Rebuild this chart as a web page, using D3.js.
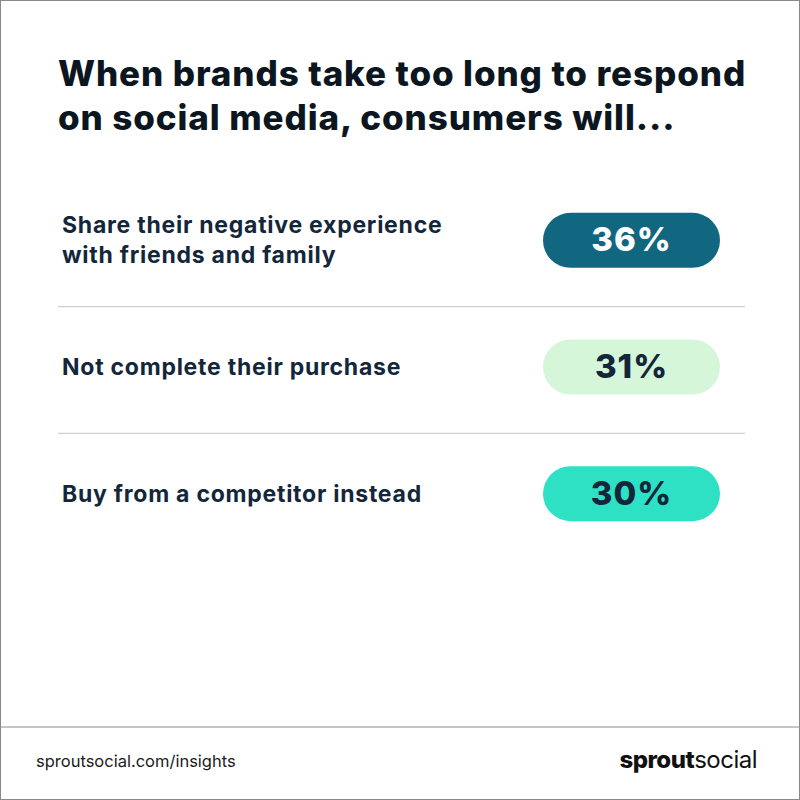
<!DOCTYPE html>
<html>
<head>
<meta charset="utf-8">
<script src="https://cdn.jsdelivr.net/npm/d3@7"></script>
<style>
  body { margin: 0; background: #fff; }
  text { font-family: Inter, "Open Sans", sans-serif; }
</style>
</head>
<body>
<svg id="chart"></svg>
<script>
// chart data
const titleLines = ["When brands take too long to respond", "on social media, consumers will..."];
const answers = [
  ["Share their negative experience", "with friends and family"],
  ["Not complete their purchase"],
  ["Buy from a competitor instead"]
];
const values = [36, 31, 30];
const pillColors = ["#126780", "#d6f6d9", "#2ee1c5"];
const pillText = ["#ffffff", "#13263a", "#13263a"];

const W = 800, H = 800;
const ink = "#13263a";

const svg = d3.select("#chart").attr("width", W).attr("height", H);

svg.append("rect").attr("x", 0.5).attr("y", 0.5).attr("width", W - 1).attr("height", H - 1)
  .attr("fill", "#fff").attr("stroke", "#8a8a8a");

// title
svg.append("g").selectAll("text").data(titleLines).enter().append("text")
  .attr("x", 58).attr("y", (d, i) => 86 + i * 44)
  .attr("font-size", 35).attr("font-weight", 800).attr("fill", "#0b1620")
  .attr("letter-spacing", 0.9)
  .text(d => d);

// rows
const y = d3.scaleBand().domain(d3.range(values.length)).range([177, 557]);
const pillX = 543, pillW = 177, pillH = 55;

const rows = svg.append("g").selectAll("g").data(values).enter().append("g")
  .attr("transform", (d, i) => `translate(0,${y(i) + y.bandwidth() / 2})`);

rows.append("rect")
  .attr("x", pillX).attr("y", -pillH / 2).attr("width", pillW).attr("height", pillH)
  .attr("rx", pillH / 2).attr("fill", (d, i) => pillColors[i]);

rows.append("text")
  .attr("x", pillX + pillW / 2).attr("y", 11).attr("text-anchor", "middle")
  .attr("font-size", 33).attr("font-weight", 800).attr("fill", (d, i) => pillText[i])
  .attr("letter-spacing", 1)
  .text(d => d + "%");

rows.each(function(d, i) {
  const lines = answers[i];
  d3.select(this).selectAll("text.lab").data(lines).enter().append("text")
    .attr("class", "lab")
    .attr("x", 62)
    .attr("y", (l, j) => 8 + (j - (lines.length - 1) / 2) * 30)
    .attr("font-size", 23).attr("font-weight", 700).attr("fill", ink)
    .attr("letter-spacing", 0.75)
    .text(l => l);
});

// separators
svg.append("g").selectAll("line").data(d3.range(1, values.length)).enter().append("line")
  .attr("x1", 58).attr("x2", 745)
  .attr("y1", i => y(i) + 3).attr("y2", i => y(i) + 3)
  .attr("stroke", "#cfcfcf").attr("stroke-width", 1.2);

// footer
svg.append("line").attr("x1", 0).attr("x2", W).attr("y1", 727).attr("y2", 727)
  .attr("stroke", "#8a8a8a");
svg.append("text").attr("x", 36).attr("y", 767).attr("font-size", 16.5).attr("fill", "#1b1b1b")
  .text("sproutsocial.com/insights");
const logo = svg.append("text").attr("x", 757).attr("y", 768).attr("text-anchor", "end")
  .attr("font-size", 24).attr("fill", "#111").attr("letter-spacing", -0.5);
logo.append("tspan").attr("font-weight", 800).text("sprout");
logo.append("tspan").attr("font-weight", 400).text("social");
</script>
</body>
</html>
